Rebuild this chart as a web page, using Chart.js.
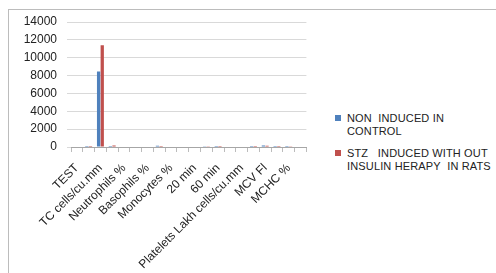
<!DOCTYPE html>
<html>
<head>
<meta charset="utf-8">
<script src="https://cdn.jsdelivr.net/npm/chart.js@4/dist/chart.umd.min.js"></script>
<style>
  html, body { margin: 0; padding: 0; background: #fff; overflow: hidden; }
  #frame { position: absolute; left: 8px; top: 9px; width: 520px; height: 300px; border: 1px solid #bcbcbc; box-sizing: border-box; }
  #chart { position: absolute; left: 0; top: 0; }
  #legend { position: absolute; left: 335px; top: 112px; font-family: "Liberation Sans", Arial, sans-serif; font-size: 11px; color: #222; line-height: 13px; letter-spacing: 0.15px; }
  .item { position: relative; padding-left: 12px; margin-bottom: 9px; white-space: nowrap; }
  .swatch { position: absolute; left: 0; top: 3px; width: 6px; height: 6px; }
</style>
</head>
<body>
<div id="frame"></div>
<canvas id="chart" width="320" height="273"></canvas>
<div id="legend"></div>
<script>
// categories (every other label is hidden by the axis, as in the original)
const categories = [
    'TEST', 'Hb gm%', 'TC cells/cu.mm', 'DC', 'Neutrophils %', 'Lymphocytes %',
    'Basophils %', 'Eosinophils %', 'Monocytes %', 'ESR', '20 min', '40 min',
    '60 min', 'PCV %', 'Platelets Lakh cells/cu.mm', 'RBC mill/cu.mm', 'MCV Fl',
    'MCH pg', 'MCHC %', 'RDW %'
];
const seriesNames = [
    ['NON  INDUCED IN', 'CONTROL'],
    ['STZ   INDUCED WITH OUT', 'INSULIN HERAPY  IN RATS']
];
const nonInduced = [0, 100, 8450, 110, 0, 0, 0, 130, 0, 0, 0, 20, 120, 0, 0, 120, 180, 120, 110, 0];
const stzInduced = [0, 110, 11400, 160, 0, 0, 0, 110, 70, 0, 0, 90, 100, 0, 0, 100, 140, 100, 90, 0];
const yTicks = [0, 2000, 4000, 6000, 8000, 10000, 12000, 14000];
const seriesColors = ['#4f81bd', '#c0504d'];

const font = { family: '"Liberation Sans", Arial, sans-serif', size: 12 };

const ctx = document.getElementById('chart').getContext('2d');
new Chart(ctx, {
    type: 'bar',
    data: {
        labels: categories,
        datasets: [
            { label: seriesNames[0].join(' '), data: nonInduced, backgroundColor: seriesColors[0] },
            { label: seriesNames[1].join(' '), data: stzInduced, backgroundColor: seriesColors[1] }
        ]
    },
    options: {
        responsive: false,
        animation: false,
        layout: { padding: { top: 22, right: 12, left: 0, bottom: 0 } },
        datasets: { bar: { barPercentage: 0.9, categoryPercentage: 0.62 } },
        plugins: { legend: { display: false }, tooltip: { enabled: false } },
        scales: {
            x: {
                afterFit: (scale) => { scale.height = 126; },
                grid: { drawOnChartArea: false, tickLength: 5, color: '#bcbcbc', offset: true },
                border: { color: '#a6a6a6' },
                ticks: {
                    autoSkip: false, maxRotation: 45, minRotation: 45, padding: 9,
                    color: '#222', font: font,
                    callback: (v, i) => (i % 2 === 0 ? categories[i] : '')
                }
            },
            y: {
                min: yTicks[0],
                max: yTicks[yTicks.length - 1],
                afterFit: (scale) => { scale.width = 71; },
                afterBuildTicks: (scale) => { scale.ticks = yTicks.map(v => ({ value: v })); },
                grid: { color: '#d9d9d9', tickLength: 4 },
                border: { display: false },
                ticks: { padding: 10, color: '#222', font: font, callback: (v) => String(v) }
            }
        }
    }
});

// legend with wrapped series names
const legend = document.getElementById('legend');
seriesNames.forEach((lines, i) => {
    const item = document.createElement('div');
    item.className = 'item';
    item.innerHTML = '<span class="swatch" style="background:' + seriesColors[i] + '"></span>' +
        lines.map(l => l.replace(/ /g, '&nbsp;')).join('<br>');
    legend.appendChild(item);
});
</script>
</body>
</html>
